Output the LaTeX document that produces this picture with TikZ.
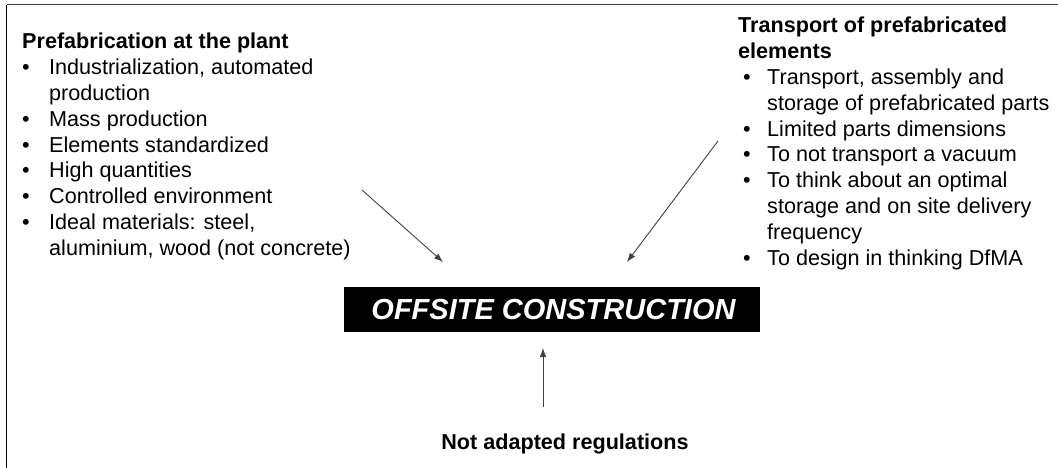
\documentclass[tikz,border=0pt]{standalone}
\usepackage{fontspec}
\setmainfont{Liberation Sans}
\usetikzlibrary{arrows.meta}

% bullet cell of a given width
\newcommand{\blt}[1]{\makebox[#1][l]{\textbullet}}

\tikzset{
  listtext/.style={anchor=base west, inner sep=0pt, align=left,
    font=\fontsize{21.6}{25.8}\selectfont},
  headtext/.style={anchor=base, inner sep=0pt,
    font=\fontsize{21.6}{25.8}\selectfont\bfseries},
  mainbox/.style={fill=black, text=white, inner sep=0pt,
    minimum width=416pt, minimum height=45pt,
    font=\fontsize{29}{34}\selectfont\bfseries\itshape},
  influence/.style={draw=black!75, line width=0.9pt,
    -{Latex[length=9pt,width=6.5pt]}},
  frameline/.style={line width=1.7pt}
}

\begin{document}
\begin{tikzpicture}[x=1pt, y=-1pt]
\useasboundingbox (0,0) rectangle (1058,468);

% open frame: left edge and top edge
\draw[frameline, black] (6.5,468) -- (6.5,4.6);
\draw[frameline, black!75] (6.5,4.6) -- (1058,4.6);

% plant prefabrication list
\node[listtext] (plant) at (22,49) {%
\begin{tabular}[t]{@{}l@{}l@{}}
\multicolumn{2}{@{}l@{}}{\bfseries Prefabrication at the plant}\\
\blt{27pt} & Industrialization, automated\\
 & production\\
\blt{27pt} & Mass production\\
\blt{27pt} & Elements standardized\\
\blt{27pt} & High quantities\\
\blt{27pt} & Controlled environment\\
\blt{27pt} & Ideal materials: steel,\\
 & aluminium, wood (not concrete)
\end{tabular}};

% transport list
\node[listtext] (transport) at (738,33) {%
\begin{tabular}[t]{@{}l@{}l@{}}
\multicolumn{2}{@{}l@{}}{\bfseries Transport of prefabricated}\\
\multicolumn{2}{@{}l@{}}{\bfseries elements}\\
\hspace*{5pt}\blt{24pt} & Transport, assembly and\\
 & storage of prefabricated parts\\
\hspace*{5pt}\blt{24pt} & Limited parts dimensions\\
\hspace*{5pt}\blt{24pt} & To not transport a vacuum\\
\hspace*{5pt}\blt{24pt} & To think about an optimal\\
 & storage and on site delivery\\
 & frequency\\
\hspace*{5pt}\blt{24pt} & To design in thinking DfMA
\end{tabular}};

% central box
\node[mainbox] (offsite) at (552,309.5) {\hspace*{3pt}OFFSITE CONSTRUCTION};

% regulations label
\node[headtext] (regs) at (565,449) {Not adapted regulations};

% arrow end points
\coordinate (plantout) at (362,190);
\coordinate (plantin) at (443,262);
\coordinate (transout) at (718,141);
\coordinate (transin) at (627,262);
\coordinate (regsout) at (543,407);
\coordinate (regsin) at (543,348);

\draw[influence] (plantout) -- (plantin);
\draw[influence] (transout) -- (transin);
\draw[influence] (regsout) -- (regsin);
\end{tikzpicture}
\end{document}
